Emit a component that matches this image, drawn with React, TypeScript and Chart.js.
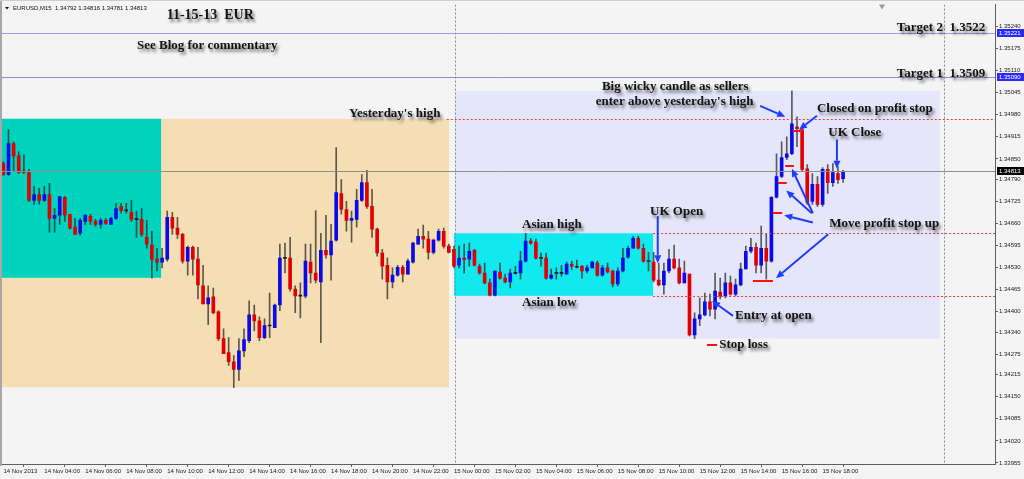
import React, { useEffect, useRef } from 'react';
import { Chart, registerables } from 'chart.js';

Chart.register(...registerables);

// ---- EURUSD M15 candles (14 Nov 2013 02:00 onward, one per 15 minutes) ----
const opens = [
  1.34836, 1.34804, 1.34895, 1.34859, 1.34815, 1.34810, 1.34728, 1.34745, 1.34728, 1.34745,
  1.34675, 1.34684, 1.34737, 1.34687, 1.34649, 1.34631, 1.34666, 1.34681, 1.34666, 1.34657,
  1.34669, 1.34657, 1.34675, 1.34710, 1.34698, 1.34693, 1.34672, 1.34672, 1.34619, 1.34596,
  1.34555, 1.34546, 1.34555, 1.34678, 1.34646, 1.34628, 1.34549, 1.34590, 1.34555, 1.34476,
  1.34423, 1.34444, 1.34400, 1.34321, 1.34280, 1.34253, 1.34230, 1.34285, 1.34315, 1.34391,
  1.34373, 1.34324, 1.34359, 1.34353, 1.34420, 1.34558, 1.34558, 1.34467, 1.34447, 1.34446,
  1.34546, 1.34514, 1.34488, 1.34581, 1.34567, 1.34611, 1.34748, 1.34701, 1.34669, 1.34672,
  1.34728, 1.34780, 1.34710, 1.34643, 1.34573, 1.34537, 1.34488, 1.34508, 1.34531, 1.34511,
  1.34546, 1.34599, 1.34622, 1.34614, 1.34575, 1.34611, 1.34637, 1.34593, 1.34584, 1.34537,
  1.34558, 1.34555, 1.34581, 1.34534, 1.34514, 1.34485, 1.34449, 1.34517, 1.34499, 1.34488,
  1.34513, 1.34514, 1.34549, 1.34608, 1.34605, 1.34558, 1.34558, 1.34499, 1.34514, 1.34513,
  1.34511, 1.34540, 1.34532, 1.34534, 1.34520, 1.34529, 1.34543, 1.34508, 1.34529, 1.34520,
  1.34482, 1.34520, 1.34561, 1.34587, 1.34616, 1.34587, 1.34549, 1.34546, 1.34493, 1.34479,
  1.34520, 1.34555, 1.34529, 1.34485, 1.34511, 1.34332, 1.34379, 1.34391, 1.34429, 1.34408,
  1.34458, 1.34447, 1.34485, 1.34452, 1.34479, 1.34526, 1.34578, 1.34590, 1.34537, 1.34587,
  1.34549, 1.34737, 1.34798, 1.34854, 1.34865, 1.34944, 1.34936, 1.34821, 1.34725, 1.34775,
  1.34716, 1.34819, 1.34780, 1.34807, 1.34792,
];
const highs = [
  1.34842, 1.34936, 1.34900, 1.34871, 1.34862, 1.34819, 1.34769, 1.34763, 1.34769, 1.34778,
  1.34704, 1.34739, 1.34739, 1.34687, 1.34675, 1.34675, 1.34687, 1.34687, 1.34672, 1.34675,
  1.34675, 1.34678, 1.34719, 1.34719, 1.34719, 1.34728, 1.34696, 1.34704, 1.34669, 1.34637,
  1.34587, 1.34587, 1.34696, 1.34693, 1.34678, 1.34631, 1.34593, 1.34593, 1.34590, 1.34537,
  1.34476, 1.34470, 1.34403, 1.34350, 1.34324, 1.34271, 1.34321, 1.34350, 1.34432, 1.34420,
  1.34385, 1.34379, 1.34455, 1.34423, 1.34599, 1.34602, 1.34619, 1.34476, 1.34485, 1.34599,
  1.34599, 1.34698, 1.34631, 1.34684, 1.34657, 1.34883, 1.34789, 1.34725, 1.34696, 1.34760,
  1.34804, 1.34816, 1.34760, 1.34646, 1.34584, 1.34558, 1.34529, 1.34537, 1.34537, 1.34555,
  1.34605, 1.34643, 1.34655, 1.34637, 1.34614, 1.34643, 1.34646, 1.34599, 1.34593, 1.34593,
  1.34599, 1.34602, 1.34584, 1.34540, 1.34543, 1.34496, 1.34520, 1.34543, 1.34511, 1.34526,
  1.34534, 1.34578, 1.34631, 1.34616, 1.34614, 1.34573, 1.34573, 1.34526, 1.34529, 1.34537,
  1.34546, 1.34549, 1.34552, 1.34537, 1.34537, 1.34549, 1.34549, 1.34537, 1.34543, 1.34523,
  1.34529, 1.34587, 1.34593, 1.34622, 1.34622, 1.34599, 1.34575, 1.34575, 1.34543, 1.34543,
  1.34584, 1.34596, 1.34555, 1.34549, 1.34511, 1.34397, 1.34441, 1.34455, 1.34452, 1.34514,
  1.34499, 1.34514, 1.34505, 1.34496, 1.34543, 1.34593, 1.34616, 1.34602, 1.34652, 1.34628,
  1.34739, 1.34865, 1.34900, 1.34915, 1.35050, 1.34974, 1.34939, 1.34833, 1.34807, 1.34798,
  1.34824, 1.34833, 1.34836, 1.34827, 1.34816,
];
const lows = [
  1.34801, 1.34801, 1.34813, 1.34807, 1.34807, 1.34725, 1.34716, 1.34716, 1.34725, 1.34634,
  1.34634, 1.34657, 1.34666, 1.34643, 1.34628, 1.34625, 1.34657, 1.34657, 1.34652, 1.34646,
  1.34657, 1.34657, 1.34672, 1.34690, 1.34690, 1.34666, 1.34619, 1.34622, 1.34587, 1.34499,
  1.34520, 1.34529, 1.34549, 1.34628, 1.34616, 1.34543, 1.34508, 1.34508, 1.34438, 1.34423,
  1.34362, 1.34394, 1.34315, 1.34277, 1.34242, 1.34177, 1.34198, 1.34268, 1.34309, 1.34344,
  1.34315, 1.34321, 1.34324, 1.34353, 1.34403, 1.34514, 1.34461, 1.34397, 1.34382, 1.34441,
  1.34485, 1.34485, 1.34309, 1.34558, 1.34493, 1.34608, 1.34687, 1.34637, 1.34605, 1.34649,
  1.34725, 1.34704, 1.34619, 1.34564, 1.34496, 1.34438, 1.34470, 1.34505, 1.34488, 1.34511,
  1.34543, 1.34599, 1.34587, 1.34555, 1.34570, 1.34608, 1.34587, 1.34573, 1.34529, 1.34529,
  1.34514, 1.34534, 1.34534, 1.34511, 1.34482, 1.34447, 1.34447, 1.34496, 1.34485, 1.34470,
  1.34511, 1.34496, 1.34546, 1.34599, 1.34555, 1.34534, 1.34496, 1.34496, 1.34496, 1.34505,
  1.34511, 1.34523, 1.34529, 1.34499, 1.34514, 1.34529, 1.34505, 1.34505, 1.34514, 1.34473,
  1.34476, 1.34517, 1.34558, 1.34587, 1.34584, 1.34546, 1.34520, 1.34488, 1.34476, 1.34452,
  1.34514, 1.34526, 1.34482, 1.34485, 1.34329, 1.34321, 1.34359, 1.34388, 1.34388, 1.34379,
  1.34438, 1.34441, 1.34449, 1.34447, 1.34476, 1.34526, 1.34573, 1.34514, 1.34514, 1.34496,
  1.34546, 1.34734, 1.34795, 1.34848, 1.34862, 1.34886, 1.34813, 1.34716, 1.34716, 1.34710,
  1.34710, 1.34748, 1.34769, 1.34778, 1.34781,
];
const closes = [
  1.34804, 1.34895, 1.34859, 1.34810, 1.34810, 1.34728, 1.34745, 1.34728, 1.34745, 1.34675,
  1.34684, 1.34739, 1.34684, 1.34646, 1.34628, 1.34669, 1.34684, 1.34666, 1.34657, 1.34669,
  1.34660, 1.34675, 1.34704, 1.34698, 1.34697, 1.34672, 1.34671, 1.34628, 1.34599, 1.34555,
  1.34546, 1.34558, 1.34678, 1.34646, 1.34628, 1.34549, 1.34590, 1.34555, 1.34479, 1.34423,
  1.34441, 1.34397, 1.34321, 1.34277, 1.34253, 1.34230, 1.34285, 1.34318, 1.34391, 1.34373,
  1.34324, 1.34359, 1.34358, 1.34420, 1.34558, 1.34557, 1.34467, 1.34447, 1.34446, 1.34549,
  1.34514, 1.34493, 1.34581, 1.34567, 1.34608, 1.34751, 1.34701, 1.34669, 1.34675, 1.34728,
  1.34780, 1.34710, 1.34643, 1.34573, 1.34534, 1.34488, 1.34508, 1.34531, 1.34511, 1.34549,
  1.34602, 1.34622, 1.34614, 1.34575, 1.34611, 1.34637, 1.34593, 1.34575, 1.34534, 1.34558,
  1.34553, 1.34578, 1.34537, 1.34514, 1.34485, 1.34449, 1.34520, 1.34499, 1.34488, 1.34514,
  1.34515, 1.34549, 1.34608, 1.34602, 1.34558, 1.34557, 1.34499, 1.34508, 1.34513, 1.34514,
  1.34540, 1.34534, 1.34531, 1.34520, 1.34529, 1.34546, 1.34508, 1.34529, 1.34517, 1.34482,
  1.34520, 1.34558, 1.34587, 1.34616, 1.34587, 1.34549, 1.34548, 1.34493, 1.34479, 1.34520,
  1.34555, 1.34529, 1.34485, 1.34514, 1.34332, 1.34379, 1.34391, 1.34429, 1.34408, 1.34461,
  1.34447, 1.34485, 1.34452, 1.34479, 1.34526, 1.34578, 1.34590, 1.34537, 1.34587, 1.34549,
  1.34737, 1.34798, 1.34854, 1.34865, 1.34953, 1.34939, 1.34819, 1.34722, 1.34775, 1.34716,
  1.34819, 1.34780, 1.34810, 1.34789, 1.34813,
];

const priceTickLabels = [
  '1.35240', '1.35175', '1.35110', '1.35045', '1.34980', '1.34915', '1.34850', '1.34790',
  '1.34725', '1.34660', '1.34595', '1.34530', '1.34465', '1.34400', '1.34340', '1.34275',
  '1.34215', '1.34150', '1.34085', '1.34020', '1.33955',
];
const timeTickIndex = [0, 8, 16, 24, 32, 40, 48, 56, 64, 72, 80, 88, 96, 104, 112, 120, 128, 136, 144, 152, 160];
const timeTickLabels = [
  '14 Nov 2013', '14 Nov 04:00', '14 Nov 06:00', '14 Nov 08:00', '14 Nov 10:00', '14 Nov 12:00',
  '14 Nov 14:00', '14 Nov 16:00', '14 Nov 18:00', '14 Nov 20:00', '14 Nov 22:00', '15 Nov 00:00',
  '15 Nov 02:00', '15 Nov 04:00', '15 Nov 06:00', '15 Nov 08:00', '15 Nov 10:00', '15 Nov 12:00',
  '15 Nov 14:00', '15 Nov 16:00', '15 Nov 18:00',
];

const headerText = 'EURUSD,M15  1.34792 1.34816 1.34781 1.34813';

// ---- drawing objects in chart coordinates (bar index, price) ----
const zones = [
  { from: -2, to: 87.03, top: 1.34968, bottom: 1.34178, color: '#f5deb3' },
  { from: -2, to: 30.8, top: 1.34968, bottom: 1.345, color: '#00d3bd' },
  { from: 88.2, to: 182.9, top: 1.3505, bottom: 1.34321, color: '#e6e6fa' },
  { from: 88.0, to: 126.9, top: 1.34631, bottom: 1.34447, color: '#12e9ef' },
];
const separators = [88.15, 183.7];
const levels = [
  { price: 1.35221, from: -2, color: '#9d9de6', dash: [] as number[] },
  { price: 1.3509, from: -2, color: '#8f8fd0', dash: [] as number[] },
  { price: 1.34813, from: -2, color: '#8e8e8e', dash: [] as number[] },
  { price: 1.34966, from: 86.6, color: '#f03a3a', dash: [2, 2] },
  { price: 1.34631, from: 126.9, color: '#f03a3a', dash: [2, 2] },
  { price: 1.34447, from: 126.9, color: '#f03a3a', dash: [2, 2] },
];
const stopMarks = [
  { from: 137.4, to: 139.4, price: 1.34303 },
  { from: 146.4, to: 150.3, price: 1.3449 },
  { from: 150.3, to: 152.1, price: 1.3469 },
  { from: 151.3, to: 153.0, price: 1.3478 },
  { from: 152.7, to: 154.4, price: 1.3483 },
  { from: 154.2, to: 156.2, price: 1.34933 },
];
const arrows = [
  { x1: 147.8, p1: 1.35006, x2: 152.7, p2: 1.34974 },
  { x1: 158.9, p1: 1.34977, x2: 155.4, p2: 1.34936 },
  { x1: 162.8, p1: 1.34907, x2: 162.8, p2: 1.34821 },
  { x1: 127.8, p1: 1.34681, x2: 127.8, p2: 1.34543 },
  { x1: 158.1, p1: 1.34663, x2: 152.5, p2: 1.34684 },
  { x1: 157.9, p1: 1.3469, x2: 152.9, p2: 1.34757 },
  { x1: 158.1, p1: 1.3469, x2: 154.0, p2: 1.34821 },
  { x1: 161.1, p1: 1.34628, x2: 150.9, p2: 1.34499 },
  { x1: 142.5, p1: 1.34388, x2: 138.4, p2: 1.34432 },
];
const notes = [
  { text: '11-15-13  EUR', x: 31.9, price: 1.35272, size: 14 },
  { text: 'See Blog for commentary', x: 26.1, price: 1.35184, size: 13 },
  { text: 'Target 2  1.3522', x: 174.5, price: 1.35237, size: 13 },
  { text: 'Target 1  1.3509', x: 174.5, price: 1.35102, size: 13 },
  { text: "Yesterday's high", x: 67.5, price: 1.34982, size: 13 },
  { text: 'Big wicky candle as sellers', x: 116.9, price: 1.35064, size: 13 },
  { text: "enter above yesterday's high", x: 115.7, price: 1.35018, size: 13 },
  { text: 'Closed on profit stop', x: 158.9, price: 1.34997, size: 13 },
  { text: 'UK Close', x: 161.1, price: 1.34927, size: 13 },
  { text: 'Asian high', x: 101.3, price: 1.34655, size: 13 },
  { text: 'Asian low', x: 101.3, price: 1.34426, size: 13 },
  { text: 'UK Open', x: 126.3, price: 1.34696, size: 13 },
  { text: 'Move profit stop up', x: 161.3, price: 1.3466, size: 13 },
  { text: 'Entry at open', x: 142.9, price: 1.34388, size: 13 },
  { text: 'Stop loss', x: 139.8, price: 1.34303, size: 13 },
];
const axisTags = [
  { price: 1.35221, text: '1.35221', bg: '#2a2aff' },
  { price: 1.3509, text: '1.35090', bg: '#2a2aff' },
  { price: 1.34813, text: '1.34813', bg: '#000000' },
];

const overlay = {
  id: 'overlay',
  beforeDraw(chart: any) {
    const { ctx, width, height } = chart;
    ctx.save();
    ctx.fillStyle = '#f4f4f4';
    ctx.fillRect(0, 0, width, height);
    ctx.restore();
  },
  beforeDatasetsDraw(chart: any) {
    const { ctx, chartArea: a, scales } = chart;
    const X = (v: number) => scales.x.getPixelForValue(v);
    const Y = (v: number) => scales.y.getPixelForValue(v);
    ctx.save();
    ctx.beginPath();
    ctx.rect(a.left, a.top, a.right - a.left, a.bottom - a.top);
    ctx.clip();
    for (const z of zones) {
      const x0 = X(z.from), x1 = X(z.to), y0 = Y(z.top), y1 = Y(z.bottom);
      ctx.fillStyle = z.color;
      ctx.fillRect(x0, y0, x1 - x0, y1 - y0);
    }
    ctx.strokeStyle = '#8a8a8a';
    ctx.lineWidth = 1;
    ctx.setLineDash([2, 2]);
    for (const s of separators) {
      const px = Math.round(X(s)) + 0.5;
      ctx.beginPath();
      ctx.moveTo(px, a.top);
      ctx.lineTo(px, a.bottom);
      ctx.stroke();
    }
    ctx.restore();
  },
  afterDatasetsDraw(chart: any) {
    const { ctx, chartArea: a, scales } = chart;
    const X = (v: number) => scales.x.getPixelForValue(v);
    const Y = (v: number) => scales.y.getPixelForValue(v);
    ctx.save();
    ctx.beginPath();
    ctx.rect(a.left, a.top, a.right - a.left, a.bottom - a.top);
    ctx.clip();
    // horizontal levels
    for (const l of levels) {
      const py = Math.round(Y(l.price)) + 0.5;
      ctx.strokeStyle = l.color;
      ctx.lineWidth = 1;
      ctx.setLineDash(l.dash);
      ctx.beginPath();
      ctx.moveTo(Math.max(a.left, X(l.from)), py);
      ctx.lineTo(a.right, py);
      ctx.stroke();
    }
    ctx.setLineDash([]);
    // profit stop / stop loss marks
    ctx.strokeStyle = '#ff1010';
    ctx.lineWidth = 2;
    for (const m of stopMarks) {
      const py = Math.round(Y(m.price));
      ctx.beginPath();
      ctx.moveTo(X(m.from), py);
      ctx.lineTo(X(m.to), py);
      ctx.stroke();
    }
    // arrows
    ctx.strokeStyle = '#1f3cff';
    ctx.fillStyle = '#1f3cff';
    for (const r of arrows) {
      const x1 = X(r.x1), y1 = Y(r.p1), x2 = X(r.x2), y2 = Y(r.p2);
      const ang = Math.atan2(y2 - y1, x2 - x1);
      const L = 8, W = 3.5;
      const bx = x2 - L * Math.cos(ang), by = y2 - L * Math.sin(ang);
      ctx.lineWidth = 2;
      ctx.beginPath();
      ctx.moveTo(x1, y1);
      ctx.lineTo(bx, by);
      ctx.stroke();
      ctx.beginPath();
      ctx.moveTo(x2, y2);
      ctx.lineTo(bx + W * Math.sin(ang), by - W * Math.cos(ang));
      ctx.lineTo(bx - W * Math.sin(ang), by + W * Math.cos(ang));
      ctx.closePath();
      ctx.fill();
    }
    // notes with drop shadow
    ctx.textAlign = 'left';
    ctx.textBaseline = 'middle';
    for (const n of notes) {
      ctx.font = `bold ${n.size}px "Liberation Serif", "Times New Roman", serif`;
      ctx.shadowColor = 'rgba(0,0,0,0.55)';
      ctx.shadowBlur = 3;
      ctx.shadowOffsetX = 2;
      ctx.shadowOffsetY = 3;
      ctx.fillStyle = '#141414';
      ctx.fillText(n.text, X(n.x), Y(n.price));
    }
    ctx.restore();

    // chart shift marker
    ctx.save();
    const sx = X(171.6);
    ctx.fillStyle = '#9a9a9a';
    ctx.beginPath();
    ctx.moveTo(sx - 3, a.top);
    ctx.lineTo(sx + 3, a.top);
    ctx.lineTo(sx, a.top + 5);
    ctx.closePath();
    ctx.fill();
    // header
    ctx.fillStyle = '#111';
    ctx.beginPath();
    ctx.moveTo(5, 7);
    ctx.lineTo(9, 7);
    ctx.lineTo(7, 9.5);
    ctx.closePath();
    ctx.fill();
    ctx.font = '6px "Liberation Sans", Arial, sans-serif';
    ctx.textAlign = 'left';
    ctx.textBaseline = 'middle';
    ctx.fillText(headerText, 13, 8);
    // axis price tags
    for (const t of axisTags) {
      const py = Math.round(Y(t.price));
      ctx.fillStyle = t.bg;
      ctx.fillRect(a.right + 2, py - 4, 27, 8);
      ctx.fillStyle = '#ffffff';
      ctx.fillText(t.text, a.right + 4, py);
    }
    // frame
    ctx.fillStyle = '#a8a8a8';
    ctx.fillRect(0, 0, 2, a.bottom + 2);
    ctx.fillStyle = '#cfcfcf';
    ctx.fillRect(0, 0, chart.width, 1);
    ctx.restore();
  },
};

export default function App() {
  const ref = useRef<HTMLCanvasElement>(null);
  useEffect(() => {
    document.body.style.margin = '0';
    const canvas = ref.current!;
    const idx = opens.map((_, i) => i);
    const bodies = idx.map((i) => ({ x: i, y: [opens[i], closes[i]] }));
    const wicks = idx.map((i) => ({ x: i, y: [lows[i], highs[i]] }));
    const bodyColors = idx.map((i) =>
      Math.abs(closes[i] - opens[i]) < 0.000025 ? '#1a1a1a' : closes[i] > opens[i] ? '#0a0ae6' : '#e30000'
    );
    const chart = new Chart(canvas, {
      type: 'bar',
      data: {
        datasets: [
          {
            data: wicks as any,
            backgroundColor: 'rgba(35,35,35,0.72)',
            barThickness: 1,
            grouped: false,
            order: 2,
          } as any,
          {
            data: bodies as any,
            backgroundColor: bodyColors,
            barThickness: 3,
            minBarLength: 1,
            grouped: false,
            order: 1,
          } as any,
        ],
      },
      options: {
        responsive: false,
        animation: false,
        events: [],
        layout: { padding: { left: 2, top: 2, right: 0, bottom: 0 } },
        plugins: { legend: { display: false }, tooltip: { enabled: false } },
        scales: {
          x: {
            type: 'linear',
            min: -0.27,
            max: 193.67,
            offset: false,
            afterBuildTicks: (s: any) => {
              s.ticks = timeTickIndex.map((v) => ({ value: v }));
            },
            afterFit: (s: any) => {
              s.height = 15;
            },
            grid: { drawOnChartArea: false, drawTicks: true, tickLength: 3, color: '#606060' },
            border: { display: true, color: '#606060' },
            ticks: {
              autoSkip: false,
              maxRotation: 0,
              minRotation: 0,
              align: 'start',
              padding: 1,
              color: '#1a1a1a',
              font: { family: '"Liberation Sans", Arial, sans-serif', size: 6 },
              callback: (_v: any, i: number) => timeTickLabels[i],
            },
          },
          y: {
            type: 'linear',
            position: 'right',
            min: 1.33952,
            max: 1.35304,
            afterBuildTicks: (s: any) => {
              s.ticks = priceTickLabels.map((t) => ({ value: parseFloat(t) }));
            },
            afterFit: (s: any) => {
              s.width = 29;
            },
            grid: { drawOnChartArea: false, drawTicks: true, tickLength: 3, color: '#606060' },
            border: { display: true, color: '#606060' },
            ticks: {
              autoSkip: false,
              padding: 1,
              color: '#1a1a1a',
              font: { family: '"Liberation Sans", Arial, sans-serif', size: 6 },
              callback: (_v: any, i: number) => priceTickLabels[i],
            },
          },
        },
      } as any,
      plugins: [overlay],
    });
    return () => chart.destroy();
  }, []);
  return <canvas ref={ref} width={1024} height={479} style={{ display: 'block', width: 1024, height: 479 }} />;
}
